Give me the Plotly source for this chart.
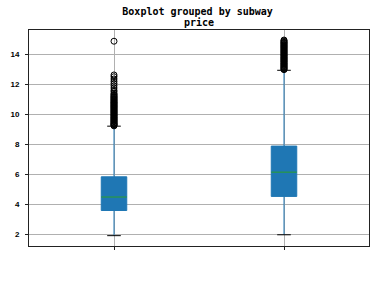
import plotly.graph_objects as go

positions = [1, 2]
q1 = [3.57, 4.51]
median = [4.47, 6.13]
q3 = [5.82, 7.87]
lower_whisker = [1.89, 1.95]
upper_whisker = [9.20, 12.93]

outliers_0 = [9.22, 9.26, 9.3, 9.33, 9.37, 9.41, 9.45, 9.5, 9.54, 9.58, 9.63, 9.67,
              9.72, 9.76, 9.8, 9.85, 9.9, 9.94, 9.98, 10.03, 10.08, 10.12, 10.17, 10.21,
              10.26, 10.3, 10.35, 10.4, 10.44, 10.49, 10.53, 10.58, 10.62, 10.67, 10.72,
              10.76, 10.8, 10.85, 10.9, 10.95, 11.0, 11.05, 11.1, 11.15, 11.2, 11.26,
              11.32, 11.38, 11.5, 11.6, 11.75, 11.9, 12.05, 12.2, 12.35, 12.5, 12.62, 14.87]
outliers_1 = [12.97, 13.01, 13.05, 13.1, 13.14, 13.18, 13.23, 13.27, 13.32, 13.36,
              13.4, 13.45, 13.5, 13.54, 13.58, 13.63, 13.67, 13.72, 13.76, 13.8, 13.85,
              13.9, 13.94, 13.98, 14.03, 14.08, 14.12, 14.17, 14.21, 14.26, 14.3, 14.35,
              14.4, 14.44, 14.49, 14.53, 14.58, 14.62, 14.67, 14.72, 14.76, 14.8, 14.85,
              14.9, 14.95]
outliers = [outliers_0, outliers_1]

title_text = "Boxplot grouped by subway"
subtitle_text = "price"
y_ticks = [2, 4, 6, 8, 10, 12, 14]
x_labels = ["", ""]

BLUE = "#1f77b4"
GREEN = "#2ca02c"
BOX_W = 0.15
CAP_W = 0.08

fig = go.Figure()
for i, p in enumerate(positions):
    fig.add_trace(go.Box(
        x=[p], q1=[q1[i]], median=[median[i]], q3=[q3[i]],
        lowerfence=[lower_whisker[i]], upperfence=[upper_whisker[i]],
        width=BOX_W, whiskerwidth=0, boxpoints=False,
        fillcolor=BLUE, line=dict(color=BLUE, width=1),
        showlegend=False, hoverinfo="skip"))
    # median line
    fig.add_trace(go.Scatter(
        x=[p - BOX_W / 2, p + BOX_W / 2], y=[median[i], median[i]],
        mode="lines", line=dict(color=GREEN, width=1), showlegend=False, hoverinfo="skip"))
    # caps
    for v in (lower_whisker[i], upper_whisker[i]):
        fig.add_trace(go.Scatter(
            x=[p - CAP_W / 2, p + CAP_W / 2], y=[v, v],
            mode="lines", line=dict(color="black", width=1), showlegend=False, hoverinfo="skip"))
    # outliers
    fig.add_trace(go.Scatter(
        x=[p] * len(outliers[i]), y=outliers[i], mode="markers",
        marker=dict(symbol="circle-open", size=6, color="black", line=dict(width=1)),
        showlegend=False, hoverinfo="skip"))

tick_font = dict(family="Liberation Sans Narrow, Liberation Sans", size=8, color="black", weight="bold")
axis_common = dict(showline=True, mirror=True, linecolor="#222222", linewidth=1,
                   ticks="outside", ticklen=3, tickcolor="#222222", tickwidth=1,
                   showgrid=True, gridcolor="#b0b0b0", gridwidth=1, zeroline=False,
                   tickfont=tick_font)

fig.update_layout(
    width=380, height=282,
    margin=dict(l=24, r=10, t=30, b=36),
    paper_bgcolor="white", plot_bgcolor="white",
    title=dict(text=title_text, x=0.52, xanchor="center", y=1 - 11 / 282, yanchor="middle",
               font=dict(family="DejaVu Sans Mono", size=10, color="black", weight="bold")),
    annotations=[dict(text=subtitle_text, xref="paper", yref="paper", x=0.5, y=1,
                      xanchor="center", yanchor="bottom", yshift=0, showarrow=False,
                      font=dict(family="DejaVu Sans Mono", size=10, color="black", weight="bold"))],
    xaxis=dict(range=[0.5, 2.5], tickvals=positions, ticktext=x_labels, **axis_common),
    yaxis=dict(range=[1.2, 15.62], tickvals=y_ticks, ticklabelstandoff=4, **axis_common),
)

fig.write_html("out.html")
